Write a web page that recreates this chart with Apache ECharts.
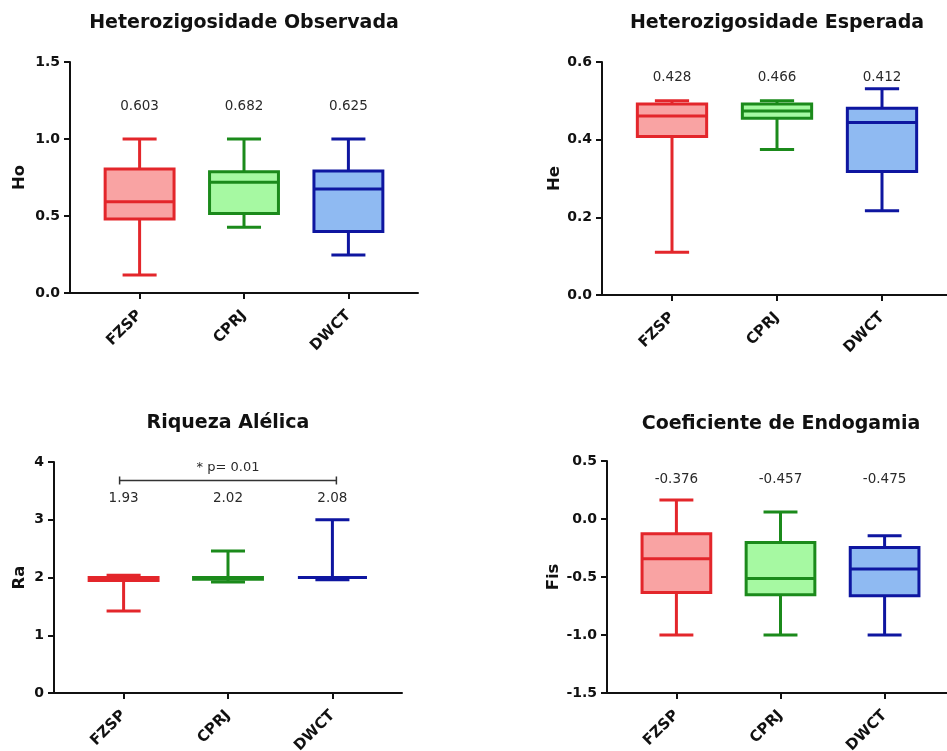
<!DOCTYPE html>
<html><head><meta charset="utf-8">
<script src="https://cdn.jsdelivr.net/npm/echarts@6/dist/echarts.min.js"></script>
<style>html,body{margin:0;padding:0;background:#fff}#c{width:947px;height:751px}</style>
</head><body><div id="c"></div><script>
// ---------- data ----------
const categories = ['FZSP', 'CPRJ', 'DWCT'];
// each box: [min, Q1, median, Q3, max]
const hoBoxes  = [[0.117, 0.480, 0.593, 0.805, 1.000], [0.427, 0.517, 0.719, 0.788, 1.000], [0.247, 0.400, 0.675, 0.792, 1.000]];
const hoMeans  = [0.603, 0.682, 0.625];
const heBoxes  = [[0.110, 0.408, 0.461, 0.492, 0.500], [0.375, 0.455, 0.474, 0.492, 0.500], [0.217, 0.318, 0.444, 0.481, 0.531]];
const heMeans  = [0.428, 0.466, 0.412];
const raBoxes  = [[1.42, 1.95, 1.98, 2.00, 2.04], [1.92, 1.97, 2.00, 2.00, 2.46], [1.96, 2.00, 2.00, 2.00, 3.00]];
const raMeans  = [1.93, 2.02, 2.08];
const fisBoxes = [[-1.000, -0.633, -0.343, -0.128, 0.164], [-1.000, -0.653, -0.513, -0.203, 0.061], [-1.000, -0.662, -0.432, -0.246, -0.145]];
const fisMeans = [-0.376, -0.457, -0.475];
const titles = ['Heterozigosidade Observada', 'Heterozigosidade Esperada', 'Riqueza Alélica', 'Coeficiente de Endogamia'];
const yNames = ['Ho', 'He', 'Ra', 'Fis'];
const yMins = [0, 0, 0, -1.5];
const yMaxs = [1.5, 0.6, 4, 0.5];
const yIntervals = [0.5, 0.2, 1, 0.5];
const sigPair = [1, 3];
const sigText = '* p= 0.01';

// ---------- styles / layout ----------
const strokeColors = ['#e3262b', '#1b8a1b', '#0e16a0'];
const fillColors = ['#f9a3a3', '#a6f9a2', '#8fbaf2'];
const grids = [
  { left: 70, top: 62, width: 348, height: 231 },
  { left: 602, top: 62, width: 350, height: 233 },
  { left: 54, top: 462, width: 348, height: 231 },
  { left: 607, top: 461, width: 347, height: 232 }
];
const titlePos = [[244, 23], [777, 23], [228, 423], [781, 424]];
const nameGaps = [42, 39, 26, 45];
const labelDecimals = [1, 1, 0, 1];
const meanDecimals = [3, 3, 2, 3];
const meanLevels = [1.21, 0.56, 3.37, 0.343];
const sigLevel = 3.68;

const panels = [
  { boxes: hoBoxes, means: hoMeans },
  { boxes: heBoxes, means: heMeans },
  { boxes: raBoxes, means: raMeans },
  { boxes: fisBoxes, means: fisMeans }
];

const FONT_B = 'DejaVu Sans';

function renderBox(params, api) {
  const i = params.dataIndex;
  const x = api.value(0);
  const mn = api.value(1), q1 = api.value(2), md = api.value(3), q3 = api.value(4), mx = api.value(5);
  const unit = api.size([1, 0])[0];
  const bw = unit * 0.66;
  const cw = unit * 0.326;
  const pMin = api.coord([x, mn]), pQ1 = api.coord([x, q1]), pMd = api.coord([x, md]), pQ3 = api.coord([x, q3]), pMax = api.coord([x, mx]);
  const cx = pMin[0];
  const sc = strokeColors[i], fc = fillColors[i];
  const ls = { stroke: sc, lineWidth: 3, lineCap: 'butt' };
  return {
    type: 'group',
    children: [
      { type: 'line', shape: { x1: cx, y1: pMax[1], x2: cx, y2: pMin[1] }, style: ls },
      { type: 'rect', shape: { x: cx - bw / 2, y: pQ3[1], width: bw, height: pQ1[1] - pQ3[1] }, style: { fill: fc, stroke: sc, lineWidth: 3 } },
      { type: 'line', shape: { x1: cx - bw / 2, y1: pMd[1], x2: cx + bw / 2, y2: pMd[1] }, style: ls },
      { type: 'line', shape: { x1: cx - cw / 2, y1: pMax[1], x2: cx + cw / 2, y2: pMax[1] }, style: ls },
      { type: 'line', shape: { x1: cx - cw / 2, y1: pMin[1], x2: cx + cw / 2, y2: pMin[1] }, style: ls }
    ]
  };
}

function makeMeanRenderer(dec) {
  return function (params, api) {
    const p = api.coord([api.value(0), api.value(1)]);
    return {
      type: 'text',
      x: p[0], y: p[1],
      style: { text: api.value(2).toFixed(dec), font: '13.5px "' + FONT_B + '"', fill: '#2a2a2a', textAlign: 'center', textVerticalAlign: 'middle' }
    };
  };
}

function renderSig(params, api) {
  const a = api.coord([api.value(0), api.value(2)]);
  const b = api.coord([api.value(1), api.value(2)]);
  const pad = 4;
  const st = { stroke: '#333', lineWidth: 1.5 };
  return {
    type: 'group',
    children: [
      { type: 'line', shape: { x1: a[0] - pad, y1: a[1], x2: b[0] + pad, y2: b[1] }, style: st },
      { type: 'line', shape: { x1: a[0] - pad, y1: a[1] - 4, x2: a[0] - pad, y2: a[1] + 4 }, style: st },
      { type: 'line', shape: { x1: b[0] + pad, y1: b[1] - 4, x2: b[0] + pad, y2: b[1] + 4 }, style: st },
      { type: 'text', x: (a[0] + b[0]) / 2, y: a[1] - 13, style: { text: sigText, font: '13px "' + FONT_B + '"', fill: '#2a2a2a', textAlign: 'center', textVerticalAlign: 'middle' } }
    ]
  };
}

const option = {
  backgroundColor: '#fff',
  animation: false,
  grid: [], xAxis: [], yAxis: [], series: [], graphic: []
};

panels.forEach((p, k) => {
  option.grid.push(Object.assign({ containLabel: false, outerBoundsMode: 'none' }, grids[k]));
  option.xAxis.push({
    type: 'value', gridIndex: k, min: 1 / 3, max: 11 / 3,
    splitLine: { show: false },
    axisLine: { onZero: false, lineStyle: { color: '#111', width: 2 } },
    axisTick: { show: true, customValues: [1, 2, 3], length: 6, lineStyle: { color: '#111', width: 2 } },
    axisLabel: {
      customValues: [1, 2, 3], rotate: 45, margin: 20,
      formatter: v => categories[Math.round(v) - 1] || '',
      fontFamily: FONT_B, fontWeight: 'bold', fontSize: 15, color: '#111'
    }
  });
  option.yAxis.push({
    type: 'value', gridIndex: k, min: yMins[k], max: yMaxs[k], interval: yIntervals[k],
    name: yNames[k], nameLocation: 'middle', nameGap: nameGaps[k],
    nameTextStyle: { fontFamily: FONT_B, fontWeight: 'bold', fontSize: 16.5, color: '#111' },
    splitLine: { show: false },
    axisLine: { show: true, onZero: false, lineStyle: { color: '#111', width: 2 } },
    axisTick: { show: true, length: 6, lineStyle: { color: '#111', width: 2 } },
    axisLabel: {
      margin: 10, fontFamily: FONT_B, fontWeight: 'bold', fontSize: 14, color: '#111',
      formatter: v => Number(v).toFixed(labelDecimals[k])
    }
  });
  option.series.push({
    type: 'custom', xAxisIndex: k, yAxisIndex: k, renderItem: renderBox,
    encode: { x: 0, y: [1, 2, 3, 4, 5] },
    data: p.boxes.map((b, i) => [i + 1].concat(b))
  });
  option.series.push({
    type: 'custom', xAxisIndex: k, yAxisIndex: k, renderItem: makeMeanRenderer(meanDecimals[k]),
    encode: { x: 0, y: 1 },
    data: p.means.map((m, i) => [i + 1, meanLevels[k], m])
  });
  option.graphic.push({
    type: 'text', x: titlePos[k][0], y: titlePos[k][1],
    style: { text: titles[k], font: 'bold 19px "' + FONT_B + '"', fill: '#111', textAlign: 'center', textVerticalAlign: 'middle' }
  });
});

option.series.push({
  type: 'custom', xAxisIndex: 2, yAxisIndex: 2, renderItem: renderSig,
  encode: { x: [0, 1], y: 2 },
  data: [[sigPair[0], sigPair[1], sigLevel]]
});

const chart = echarts.init(document.getElementById('c'), null, { renderer: 'canvas' });
chart.setOption(option);
</script></body></html>
